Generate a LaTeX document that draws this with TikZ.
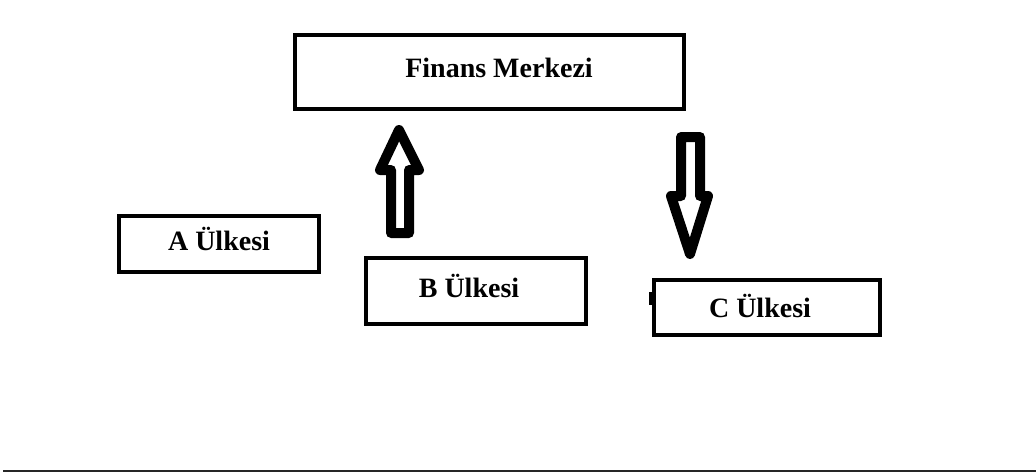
\documentclass[tikz,border=0pt]{standalone}
\usepackage{fontspec}
\setmainfont{Liberation Serif}
\tikzset{
  box/.style={draw=black, line width=4pt, fill=white, inner sep=0pt},
  lbl/.style={anchor=base, font=\fontsize{28}{28}\selectfont\bfseries, inner sep=0pt},
  blockarrow/.style={draw=black, line width=10pt, line join=round, fill=white},
}
\begin{document}
\begin{tikzpicture}[x=1pt,y=-1pt]
\useasboundingbox[fill=white] (0,0) rectangle (1036,472);
% boxes
\node[box, minimum width=389pt, minimum height=74pt] (fin) at (489.5,72) {};
\node[lbl] (finT) at (499,77) {Finans Merkezi};
\node[box, minimum width=200pt, minimum height=56pt] (a) at (219,244) {};
\node[lbl] (aT) at (219,250) {A Ülkesi};
\node[box, minimum width=220pt, minimum height=66pt] (b) at (476,291) {};
\node[lbl] (bT) at (469,297) {B Ülkesi};
\node[box, minimum width=226pt, minimum height=55pt] (c) at (767,307.5) {};
\node[lbl] (cT) at (760,317) {C Ülkesi};
\draw[line width=3pt] (650.5,292) -- (650.5,305);
% up arrow
\draw[blockarrow] (399,130) -- (419,170) -- (409,170) -- (409,233)
  -- (391,233) -- (391,170) -- (380,170) -- cycle;
% down arrow
\draw[blockarrow] (681,137) -- (700,137) -- (700,196) -- (708,196)
  -- (690,254) -- (671,196) -- (681,196) -- cycle;
% bottom rule
\draw[line width=2pt, black!85] (3,470.5) -- (1036,470.5);
\end{tikzpicture}
\end{document}
